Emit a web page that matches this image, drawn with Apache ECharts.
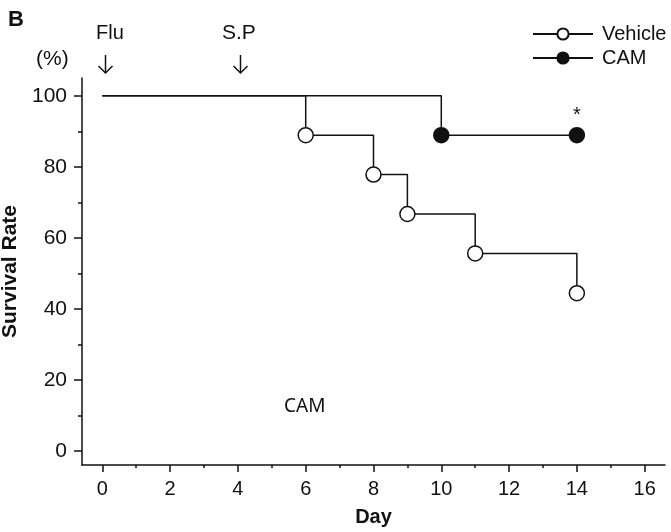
<!DOCTYPE html>
<html>
<head>
<meta charset="utf-8">
<title>Survival Rate</title>
<script src="https://cdn.jsdelivr.net/npm/echarts@6/dist/echarts.min.js"></script>
<style>
    html, body { margin: 0; padding: 0; background: #fff; }
    #chart { width: 671px; height: 532px; }
</style>
</head>
<body>
<div id="chart"></div>
<script>
// 横轴刻度
const dayTicks = [0, 2, 4, 6, 8, 10, 12, 14, 16]
const dayMinorTicks = [1, 3, 5, 7, 9, 11, 13, 15]
// 纵轴刻度
const rateTicks = [0, 20, 40, 60, 80, 100]
const rateMinorTicks = [10, 30, 50, 70, 90]

// Vehicle 组
const vehicleDays = [0, 6, 8, 9, 11, 14]
const vehicleRate = [100, 88.9, 77.8, 66.7, 55.6, 44.4]
// CAM 组
const camDays = [0, 10, 14]
const camRate = [100, 88.9, 88.9]

const font = '"Liberation Sans", Arial, sans-serif'
const ink = '#111'

// 第一个点 (day 0) 不画圆点
function toPoints(days, rates) {
    return days.map((d, i) => ({
        value: [d, rates[i]],
        symbol: i === 0 ? 'none' : 'circle'
    }))
}

// 向下箭头 (Flu / S.P 标注)
function downArrow(cx, top) {
    const lineStyle = { stroke: ink, lineWidth: 1.5, fill: null }
    return {
        type: 'group',
        children: [
            { type: 'line', shape: { x1: cx, y1: top, x2: cx, y2: top + 18 }, style: lineStyle },
            { type: 'polyline', shape: { points: [[cx - 7, top + 11], [cx, top + 18], [cx + 7, top + 11]] }, style: lineStyle }
        ]
    }
}

const chart = echarts.init(document.getElementById('chart'))

const camPoints = toPoints(camDays, camRate)
// 显著性星号
camPoints[camPoints.length - 1].label = {
    show: true,
    formatter: '*',
    position: 'top',
    distance: 1,
    fontSize: 20,
    color: ink,
    fontFamily: font
}

const option = {
    animation: false,
    grid: { left: 82, right: 6, top: 78, bottom: 67, containLabel: false, outerBoundsMode: 'none' },
    legend: {
        orient: 'vertical',
        left: 527,
        top: 19,
        itemWidth: 60,
        itemHeight: 14,
        itemGap: 4,
        data: ['Vehicle', 'CAM'],
        textStyle: { fontSize: 20, color: ink, fontFamily: font, lineHeight: 20, padding: [0, 0, 0, 4] }
    },
    xAxis: [
        {
            type: 'value',
            min: -0.6,
            max: 16.6,
            position: 'bottom',
            name: 'Day',
            nameLocation: 'middle',
            nameGap: 42,
            nameTextStyle: { fontSize: 20, fontWeight: 'bold', color: ink, fontFamily: font },
            axisLine: { show: true, onZero: false, lineStyle: { color: ink, width: 1.5 } },
            axisTick: { show: true, length: 7, customValues: dayTicks, lineStyle: { color: ink, width: 1.5 } },
            axisLabel: { customValues: dayTicks, margin: 14, fontSize: 20, color: ink, fontFamily: font },
            splitLine: { show: false }
        },
        {
            // 次刻度
            type: 'value',
            min: -0.6,
            max: 16.6,
            position: 'bottom',
            axisLine: { show: false, onZero: false },
            axisTick: { show: true, length: 3, customValues: dayMinorTicks, lineStyle: { color: ink, width: 1.5 } },
            axisLabel: { show: false },
            splitLine: { show: false }
        }
    ],
    yAxis: [
        {
            type: 'value',
            min: -4,
            max: 105,
            position: 'left',
            name: 'Survival Rate',
            nameLocation: 'middle',
            nameGap: 58,
            nameTextStyle: { fontSize: 21, fontWeight: 'bold', color: ink, fontFamily: font },
            axisLine: { show: true, onZero: false, lineStyle: { color: ink, width: 1.5 } },
            axisTick: { show: true, length: 8, customValues: rateTicks, lineStyle: { color: ink, width: 1.5 } },
            axisLabel: { customValues: rateTicks, margin: 15, fontSize: 21, color: ink, fontFamily: font },
            splitLine: { show: false }
        },
        {
            type: 'value',
            min: -4,
            max: 105,
            position: 'left',
            axisLine: { show: false, onZero: false },
            axisTick: { show: true, length: 4, customValues: rateMinorTicks, lineStyle: { color: ink, width: 1.5 } },
            axisLabel: { show: false },
            splitLine: { show: false }
        }
    ],
    series: [
        {
            name: 'Vehicle',
            type: 'line',
            step: 'end',
            symbol: 'circle',
            symbolSize: 15,
            data: toPoints(vehicleDays, vehicleRate),
            lineStyle: { color: ink, width: 1.5 },
            itemStyle: { color: '#fff', borderColor: ink, borderWidth: 1.5 },
            z: 3
        },
        {
            name: 'CAM',
            type: 'line',
            step: 'end',
            symbol: 'circle',
            symbolSize: 15,
            data: camPoints,
            lineStyle: { color: ink, width: 1.5 },
            itemStyle: { color: ink, borderColor: ink, borderWidth: 1.5 },
            z: 4
        }
    ],
    graphic: [
        { type: 'text', left: 8, top: 9, style: { text: 'B', fontSize: 22, fontWeight: 'bold', fill: ink, fontFamily: font } },
        { type: 'text', left: 36, top: 49, style: { text: '(%)', fontSize: 21, fill: ink, fontFamily: font } },
        { type: 'text', left: 96, top: 23, style: { text: 'Flu', fontSize: 20, fill: ink, fontFamily: font } },
        downArrow(105.5, 55),
        { type: 'text', left: 222, top: 23, style: { text: 'S.P', fontSize: 21, fill: ink, fontFamily: font } },
        downArrow(240.5, 55),
        { type: 'text', left: 284, top: 397, style: { text: 'CAM', fontSize: 19, fill: ink, fontFamily: '"Noto Sans", sans-serif' } }
    ]
}

chart.setOption(option)
</script>
</body>
</html>
